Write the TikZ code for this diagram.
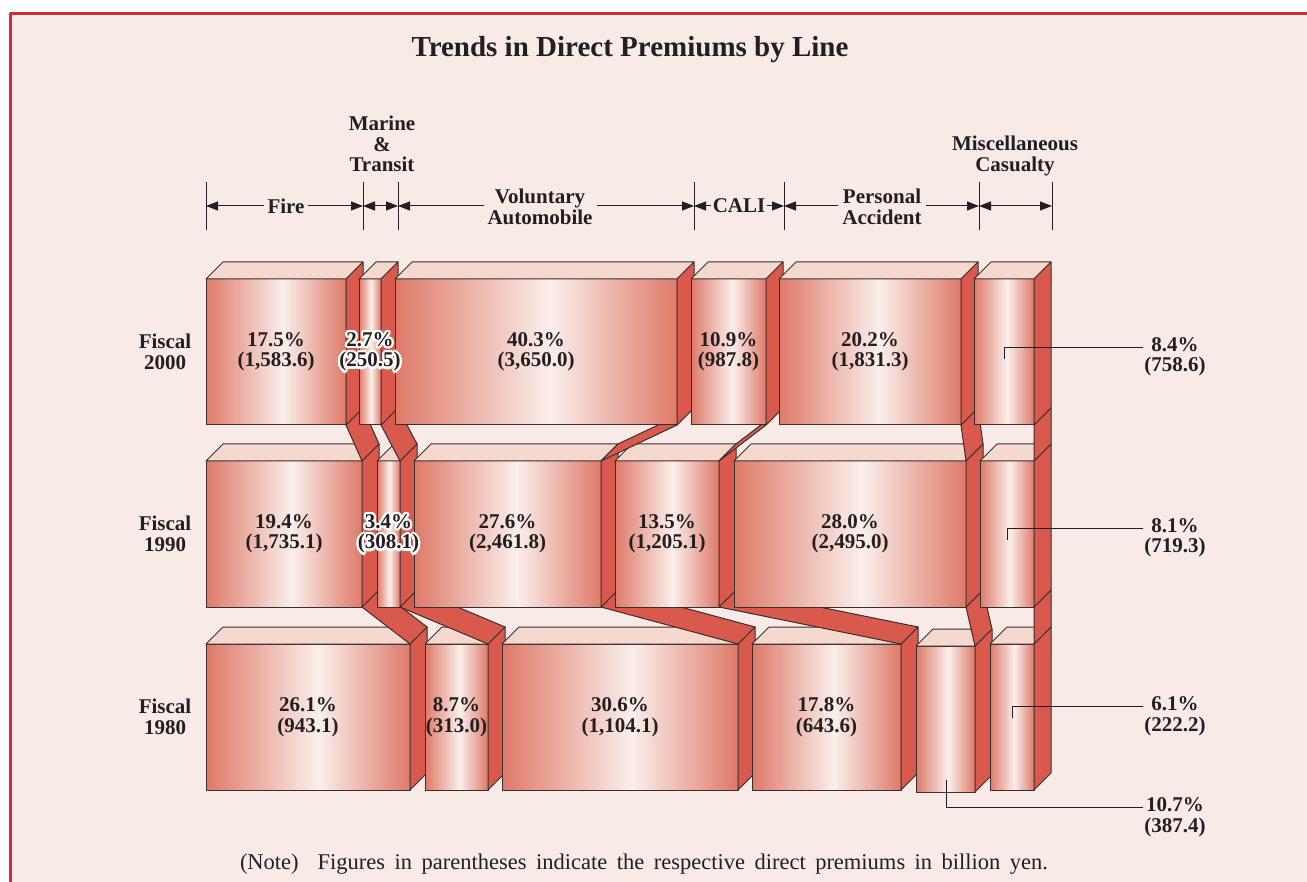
\documentclass[tikz,border=0pt]{standalone}
\usepackage{fontspec}
\setmainfont{Liberation Serif}
\usetikzlibrary{arrows.meta}

\definecolor{paper}{HTML}{F8EBE7}
\definecolor{frame}{HTML}{D62A3C}
\definecolor{ink}{HTML}{231F20}
\definecolor{outline}{HTML}{3A2E2E}
\definecolor{sidered}{HTML}{D95A4C}
\definecolor{topclr}{HTML}{F5D8CE}
\definecolor{faceedge}{HTML}{DE7A69}
\definecolor{facelight}{HTML}{FAEFEB}

% front faces: salmon at both edges, a pale highlight a little right of centre
\pgfdeclarehorizontalshading{frontshade}{100bp}{color(0bp)=(faceedge); color(25bp)=(faceedge); color(52.5bp)=(facelight); color(75bp)=(faceedge); color(100bp)=(faceedge)}

% corner points of a box front: name, left, right, top, bottom
\newcommand\boxat[5]{%
  \coordinate (#1tl) at (#2,#4);
  \coordinate (#1ft) at (#3,#4);
  \coordinate (#1fb) at (#3,#5);
  \coordinate (#1c) at ({(#2+#3)/2},{(#4+#5)/2});
}
% a box drawn as front, top and right faces
\newcommand\prism[1]{%
  \shade[shading=frontshade] (#1tl) rectangle (#1fb);
  \draw[edge] (#1tl) rectangle (#1fb);
  \filldraw[topface] (#1tl) -- ([shift={(17,-17)}]#1tl) -- ([shift={(17,-17)}]#1ft) -- (#1ft) -- cycle;
  \filldraw[sideface] (#1ft) -- ([shift={(17,-17)}]#1ft) -- ([shift={(17,-17)}]#1fb) -- (#1fb) -- cycle;
}
% band joining the right face of one box to the right face of a box below
\newcommand\ribbon[2]{%
  \filldraw[sideface] (#1fb) -- ([shift={(17,-17)}]#1fb) -- ([shift={(17,-17)}]#2ft) -- (#2ft) -- cycle;
}
% label with a white outline round its letters
\newcommand\halolabel[3]{%
  \foreach \ang in {0,22.5,...,337.5} {\node[lbl,text=white] at ([shift={(\ang:2.2)}]#2) {#3};}
  \node[lbl] (#1) at (#2) {#3};
}

\begin{document}
\begin{tikzpicture}[x=1pt,y=-1pt,line join=round,
  edge/.style={draw=outline,line width=1pt},
  topface/.style={fill=topclr,draw=outline,line width=1pt},
  sideface/.style={fill=sidered,draw=outline,line width=1pt},
  lbl/.style={font=\bfseries\fontsize{21}{20.5}\selectfont,text=ink,align=center,inner sep=0pt},
  headlbl/.style={lbl,fill=paper,inner xsep=4pt,inner ysep=1pt},
  dimline/.style={draw=ink,line width=1pt,{Triangle[length=12pt,width=9pt]}-{Triangle[length=12pt,width=9pt]}},
  tickline/.style={draw=ink,line width=1pt},
  leader/.style={draw=ink,line width=0.9pt}]

\useasboundingbox (0,0) rectangle (1307,882);
\fill[white] (0,0) rectangle (1307,882);
\fill[paper] (10,13) rectangle (1307,882);
\draw[frame,line width=2.8pt] (10.4,882) -- (10.4,13.4) -- (1307,13.4);

\node[font=\bfseries\fontsize{29}{30}\selectfont,text=ink,anchor=base] (title) at (630,57) {Trends in Direct Premiums by Line};

% ---- dimension lines above the columns
\coordinate (k0) at (206,206);
\coordinate (k1) at (363,206);
\coordinate (k2) at (398,206);
\coordinate (k3) at (694,206);
\coordinate (k4) at (784,206);
\coordinate (k5) at (979,206);
\coordinate (k6) at (1052,206);
\foreach \k in {k0,k1,k2,k3,k4,k5,k6}
  \draw[tickline] ([shift={(0,-24)}]\k) -- ([shift={(0,24)}]\k);
\draw[dimline] (k0) -- (k1);
\draw[dimline] (k1) -- (k2);
\draw[dimline] (k2) -- (k3);
\draw[dimline] (k3) -- (k4);
\draw[dimline] (k4) -- (k5);
\draw[dimline] (k5) -- (k6);
\node[headlbl] (hfire) at (286,206) {Fire};
\node[headlbl] (hvol) at (540,207) {Voluntary\\Automobile};
\node[headlbl,inner xsep=2pt] (hcali) at (739,206) {CALI};
\node[headlbl] (hpa) at (882,207) {Personal\\Accident};
\node[lbl] (hmar) at (382,144) {Marine\\\&\\Transit};
\node[lbl] (hmisc) at (1015,156) {Miscellaneous\\Casualty};

% ---- box positions
\boxat{f00}{206}{346}{279}{425}
\boxat{m00}{359}{381}{279}{425}
\boxat{v00}{395}{677}{279}{425}
\boxat{c00}{691}{766}{279}{425}
\boxat{p00}{779}{961}{279}{425}
\boxat{x00}{974}{1034}{279}{425}

\boxat{f90}{206}{362}{461}{607}
\boxat{m90}{377}{400}{461}{607}
\boxat{v90}{414}{601}{461}{607}
\boxat{c90}{615}{719}{461}{607}
\boxat{p90}{734}{966}{461}{607}
\boxat{x90}{980}{1034}{461}{607}

\boxat{f80}{206}{410}{644}{790}
\boxat{m80}{425}{488}{644}{790}
\boxat{v80}{502}{738}{644}{790}
\boxat{p80}{752}{901}{644}{790}
\boxat{c80}{916}{975}{646}{792}
\boxat{x80}{990}{1034}{644}{790}

% ---- bottom row, then bands up to the middle row
\prism{f80}\prism{m80}\prism{v80}\prism{p80}\prism{c80}\prism{x80}
\ribbon{f90}{f80}\ribbon{m90}{m80}\ribbon{v90}{v80}
\ribbon{c90}{p80}\ribbon{p90}{c80}\ribbon{x90}{x80}

% ---- middle row, then bands up to the top row
\prism{f90}\prism{m90}\prism{v90}\prism{c90}\prism{p90}\prism{x90}
\ribbon{f00}{f90}\ribbon{m00}{m90}\ribbon{v00}{v90}
\ribbon{c00}{c90}\ribbon{p00}{p90}\ribbon{x00}{x90}

% ---- top row
\prism{f00}\prism{m00}\prism{v00}\prism{c00}\prism{p00}\prism{x00}

% ---- row labels
\node[lbl] (y00) at (165,352) {Fiscal\\2000};
\node[lbl] (y90) at (165,534) {Fiscal\\1990};
\node[lbl] (y80) at (165,717) {Fiscal\\1980};

% ---- values inside the boxes
\node[lbl] (tf00) at (f00c) {17.5\%\\(1,583.6)};
\halolabel{tm00}{m00c}{2.7\%\\(250.5)}
\node[lbl] (tv00) at (v00c) {40.3\%\\(3,650.0)};
\node[lbl] (tc00) at (c00c) {10.9\%\\(987.8)};
\node[lbl] (tp00) at (p00c) {20.2\%\\(1,831.3)};

\node[lbl] (tf90) at (f90c) {19.4\%\\(1,735.1)};
\halolabel{tm90}{m90c}{3.4\%\\(308.1)}
\node[lbl] (tv90) at (v90c) {27.6\%\\(2,461.8)};
\node[lbl] (tc90) at (c90c) {13.5\%\\(1,205.1)};
\node[lbl] (tp90) at (p90c) {28.0\%\\(2,495.0)};

\node[lbl] (tf80) at (f80c) {26.1\%\\(943.1)};
\node[lbl] (tm80) at (m80c) {8.7\%\\(313.0)};
\node[lbl] (tv80) at (v80c) {30.6\%\\(1,104.1)};
\node[lbl] (tp80) at (p80c) {17.8\%\\(643.6)};

% ---- values set outside, with leaders
\node[lbl] (rx00) at (1175,357) {8.4\%\\(758.6)};
\node[lbl] (rx90) at (1175,538) {8.1\%\\(719.3)};
\node[lbl] (rx80) at (1175,716) {6.1\%\\(222.2)};
\node[lbl] (rc80) at (1175,817) {10.7\%\\(387.4)};
\coordinate (ex00) at (1143,347);
\coordinate (ex90) at (1143,528);
\coordinate (ex80) at (1143,706);
\coordinate (ec80) at (1143,807);
\draw[leader] ([shift={(0,7)}]x00c) |- (ex00);
\draw[leader] ([shift={(0,6)}]x90c) |- (ex90);
\draw[leader] ([shift={(0,1)}]x80c) |- (ex80);
\draw[leader] ([shift={(1,61)}]c80c) |- (ec80);

\node[font=\fontsize{22.5}{24}\selectfont,text=ink,anchor=base,inner sep=0pt] (note) at (644,869)
  {\makebox[808pt][s]{(Note)\ \ Figures in parentheses indicate the respective direct premiums in billion yen.}};
\end{tikzpicture}
\end{document}
